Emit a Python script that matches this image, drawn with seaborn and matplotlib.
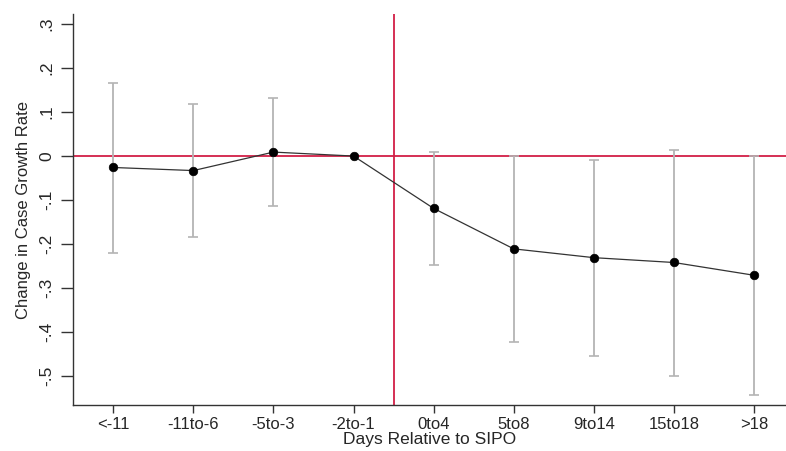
import numpy as np
import pandas as pd
import seaborn as sns
import matplotlib.pyplot as plt

# event-study coefficients
periods = ['<-11', '-11to-6', '-5to-3', '-2to-1', '0to4', '5to8', '9to14', '15to18', '>18']
coef = [-0.026, -0.033, 0.009, 0.0, -0.119, -0.211, -0.231, -0.242, -0.271]
ci_hi = [0.167, 0.118, 0.131, 0.0, 0.010, 0.0, -0.008, 0.014, 0.0]
ci_lo = [-0.220, -0.183, -0.113, 0.0, -0.247, -0.422, -0.455, -0.499, -0.543]
yticks = [0.3, 0.2, 0.1, 0.0, -0.1, -0.2, -0.3, -0.4, -0.5]
ytick_labels = ['.3', '.2', '.1', '0', '-.1', '-.2', '-.3', '-.4', '-.5']

sns.set_style('white')
plt.rcParams['font.family'] = ['Liberation Sans', 'DejaVu Sans']

df = pd.DataFrame({'pos': np.arange(len(periods)), 'period': periods,
                   'coef': coef, 'hi': ci_hi, 'lo': ci_lo})

fig = plt.figure(figsize=(7.86, 4.51), dpi=100)
ax = fig.add_axes([0.0925, 0.101, 0.9075, 0.868])

red = '#d21f47'
ax.axhline(0, color=red, lw=1.3, zorder=1)
ax.axvline(3.5, color=red, lw=1.3, zorder=1)

# confidence intervals (skip the omitted period)
ci = df[df['period'] != '-2to-1']
ax.errorbar(ci['pos'], ci['coef'],
            yerr=[ci['coef'] - ci['lo'], ci['hi'] - ci['coef']],
            fmt='none', ecolor='#b4b4b4', elinewidth=1.3, capsize=3.6, capthick=1.2, zorder=2)

sns.lineplot(data=df, x='pos', y='coef', color='#333333', lw=0.9, ax=ax, zorder=3)
sns.scatterplot(data=df, x='pos', y='coef', color='black', s=38, edgecolor='black', ax=ax, zorder=4)

ax.set_xlim(-0.507, 8.4)
ax.set_ylim(-0.567, 0.323)
ax.set_xticks(df['pos'])
ax.set_xticklabels(periods, fontsize=12)
ax.set_yticks(yticks)
ax.set_yticklabels(ytick_labels, fontsize=12.5, rotation=90, va='center')
ax.tick_params(axis='x', direction='out', length=6, width=1, color='#333333', bottom=True, pad=2)
ax.tick_params(axis='y', direction='out', length=9, width=1, color='#333333', left=True, pad=4)

ax.set_xlabel('Days Relative to SIPO', fontsize=12.5, labelpad=0)
ax.set_ylabel('Change in Case Growth Rate', fontsize=12, labelpad=6)

sns.despine(ax=ax)
for s in ['left', 'bottom']:
    ax.spines[s].set_color('#333333')
    ax.spines[s].set_linewidth(1.0)

fig.savefig('out.png', dpi=100)
